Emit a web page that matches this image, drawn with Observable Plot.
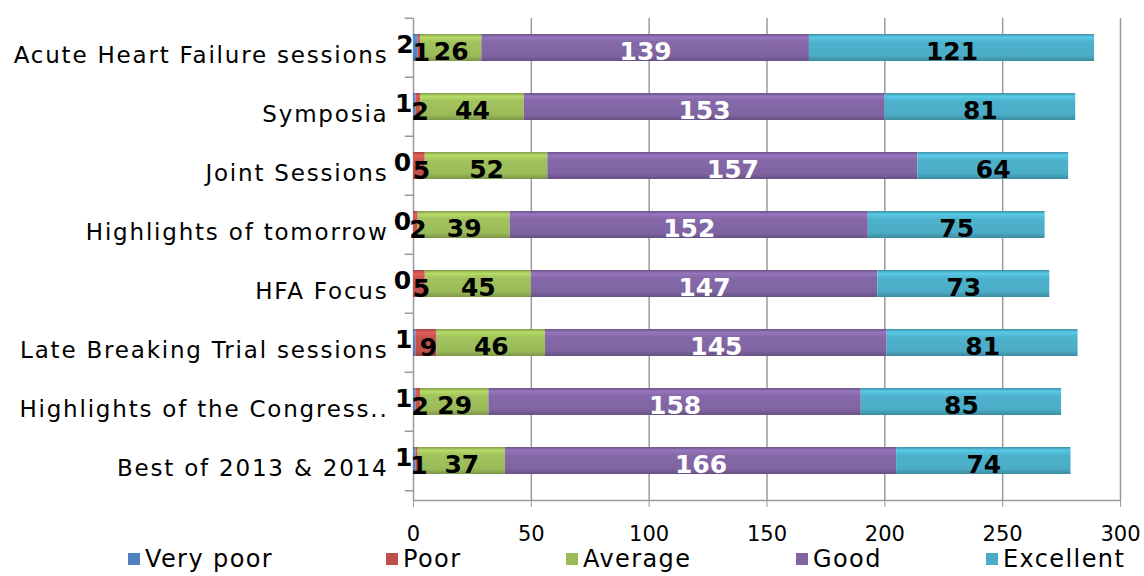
<!DOCTYPE html>
<html>
<head>
<meta charset="utf-8">
<script src="https://cdn.jsdelivr.net/npm/d3@7"></script>
<script src="https://cdn.jsdelivr.net/npm/@observablehq/plot@0.6"></script>
<style>
  html, body { margin: 0; padding: 0; background: #fff; overflow: hidden; }
  #wrap { width: 1144px; height: 576px; position: relative; font-family: "DejaVu Sans", Verdana, sans-serif; }
  #chart { position: absolute; left: 0; top: 0; }
  #legend { position: absolute; left: 0; top: 543px; width: 1144px; height: 33px; }
  .li { position: absolute; top: 2px; font-size: 24px; letter-spacing: 1.4px; line-height: 28px; color: #000; white-space: nowrap; }
  .sw { display: inline-block; width: 12px; height: 12px; margin-right: 5px; vertical-align: 2px; }
  .yax text { letter-spacing: 1.8px; }
</style>
</head>
<body>
<div id="wrap"><div id="chart"></div><div id="legend"></div></div>
<script>
const categories = ["Acute Heart Failure sessions","Symposia","Joint Sessions","Highlights of tomorrow","HFA Focus","Late Breaking Trial sessions","Highlights of the Congress..","Best of 2013 & 2014"];
const series = ["Very poor","Poor","Average","Good","Excellent"];
const veryPoor  = [2, 1, 0, 0, 0, 1, 1, 1];
const poor      = [1, 2, 5, 2, 5, 9, 2, 1];
const average   = [26, 44, 52, 39, 45, 46, 29, 37];
const good      = [139, 153, 157, 152, 147, 145, 158, 166];
const excellent = [121, 81, 64, 75, 73, 81, 85, 74];
const colors = ["#4F81BD", "#C0504D", "#9BBB59", "#8064A2", "#4BACC6"];
const xTicks = [0, 50, 100, 150, 200, 250, 300];
const legendLeft = [128, 386, 566, 796, 986];

const seriesValues = [veryPoor, poor, average, good, excellent];
const data = categories.flatMap((c, i) => series.map((s, j) => ({category: c, series: s, value: seriesValues[j][i]})));

const yRange = [16, 492];
const step = (yRange[1] - yRange[0]) / categories.length;
const font = "DejaVu Sans, Verdana, sans-serif";

const stackOpts = (textFn) => Plot.stackX({x: "value", y: "category", z: "series", text: textFn});
const labelFor = (names) => d => names.includes(d.series) ? String(d.value) : null;

const plot = Plot.plot({
  width: 1144,
  height: 576,
  marginLeft: 413,
  marginRight: 24,
  marginTop: 18,
  marginBottom: 76,
  style: {fontFamily: font, background: "#fff"},
  x: {domain: [0, 300], ticks: xTicks, label: null},
  y: {domain: categories, range: yRange, paddingInner: 0.545, paddingOuter: 0.27, label: null},
  color: {domain: series, range: colors},
  marks: [
    Plot.ruleX(xTicks, {stroke: "#9a9a9a", strokeWidth: 1.5}),
    Plot.frame({anchor: "bottom", stroke: "#9a9a9a", strokeWidth: 1.5}),
    Plot.ruleY(categories, {y: d => d, x1: -3.5, x2: 0, stroke: "#9a9a9a", strokeWidth: 1.5, dy: -step / 2, clip: false}),
    Plot.ruleY(categories.slice(-1), {y: d => d, x1: -3.5, x2: 0, stroke: "#9a9a9a", strokeWidth: 1.5, dy: step / 2, clip: false}),
    Plot.barX(data, Plot.stackX({x: "value", y: "category", fill: "series", z: "series", inset: 0})),
    Plot.text(data, {...stackOpts(labelFor(["Average", "Excellent"])), fill: "#000", fontSize: 25, fontWeight: "bold", dy: 4}),
    Plot.text(data, {...stackOpts(labelFor(["Good"])), fill: "#fff", fontSize: 25, fontWeight: "bold", dy: 4}),
    Plot.text(data, {...stackOpts(labelFor(["Very poor"])), fill: "#000", fontSize: 25, fontWeight: "bold", dx: -11, dy: -3}),
    Plot.text(data, {...stackOpts(labelFor(["Poor"])), fill: "#000", fontSize: 25, fontWeight: "bold", dx: 2, dy: 5}),
    Plot.axisY({tickSize: 0, tickPadding: 25, fontSize: 23, dy: 8, label: null, className: "yax"}),
    Plot.axisX({ticks: xTicks, tickSize: 7, tickPadding: 19, fontSize: 21, stroke: "#9a9a9a", label: null})
  ]
});

// glossy gradient fills like the original office-style bars
const svg = d3.select(plot);
const defs = svg.insert("defs", ":first-child");
colors.forEach((c, i) => {
  const g = defs.append("linearGradient").attr("id", "grad" + i).attr("x1", 0).attr("x2", 0).attr("y1", 0).attr("y2", 1);
  const base = d3.color(c);
  g.append("stop").attr("offset", "0%").attr("stop-color", base.darker(0.5));
  g.append("stop").attr("offset", "12%").attr("stop-color", base.brighter(0.45));
  g.append("stop").attr("offset", "30%").attr("stop-color", base.brighter(0.1));
  g.append("stop").attr("offset", "80%").attr("stop-color", base);
  g.append("stop").attr("offset", "100%").attr("stop-color", base.darker(0.6));
});
svg.selectAll("rect").each(function() {
  const f = (this.getAttribute("fill") || "").toLowerCase();
  const idx = colors.findIndex(c => c.toLowerCase() === f);
  if (idx >= 0) this.setAttribute("fill", `url(#grad${idx})`);
});

document.getElementById("chart").appendChild(plot);

const legend = document.getElementById("legend");
series.forEach((s, i) => {
  const item = document.createElement("div");
  item.className = "li";
  item.style.left = legendLeft[i] + "px";
  const sw = document.createElement("span");
  sw.className = "sw";
  sw.style.background = colors[i];
  item.appendChild(sw);
  item.appendChild(document.createTextNode(s));
  legend.appendChild(item);
});
</script>
</body>
</html>
